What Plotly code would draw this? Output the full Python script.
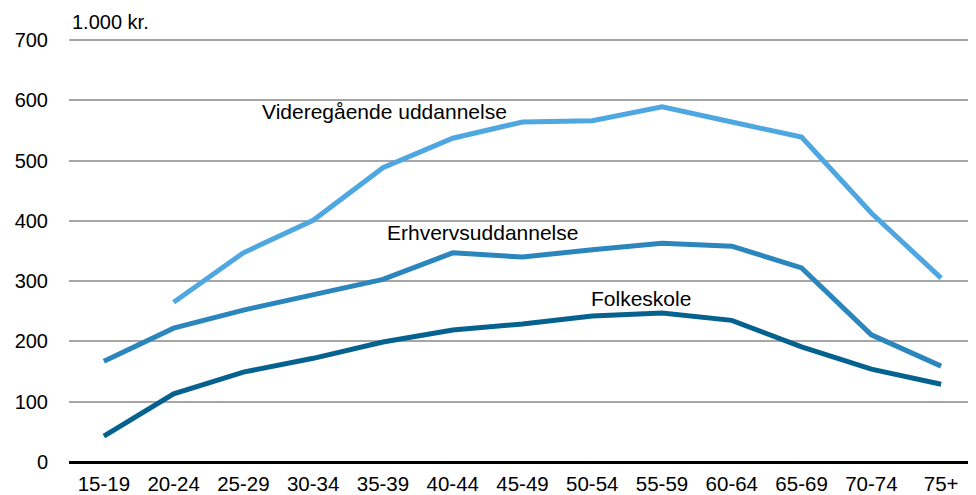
import plotly.graph_objects as go

categories = ["15-19", "20-24", "25-29", "30-34", "35-39", "40-44", "45-49",
              "50-54", "55-59", "60-64", "65-69", "70-74", "75+"]
folkeskole = [43, 113, 149, 172, 199, 219, 229, 242, 247, 235, 191, 154, 129]
erhverv = [167, 222, 252, 277, 303, 347, 340, 352, 363, 358, 322, 211, 159]
videregaaende = [None, 265, 347, 401, 488, 537, 564, 566, 589, 564, 539, 413, 305]
yticks = [0, 100, 200, 300, 400, 500, 600, 700]

FONT = "Liberation Sans, Arial, sans-serif"
fig = go.Figure()
series = [
    ("Videregående uddannelse", videregaaende, "#4ea7e0"),
    ("Erhvervsuddannelse", erhverv, "#2a86bd"),
    ("Folkeskole", folkeskole, "#05628f"),
]
for name, vals, col in series:
    fig.add_trace(go.Scatter(x=categories, y=vals, mode="lines", name=name,
                             line=dict(color=col, width=5), connectgaps=False))

annots = [
    ("Videregående uddannelse", 2.26, 582),
    ("Erhvervsuddannelse", 4.06, 380),
    ("Folkeskole", 6.98, 272),
]
for text, xv, yv in annots:
    fig.add_annotation(x=xv, y=yv, text=text, showarrow=False, xanchor="left",
                       yanchor="middle", xshift=-2,
                       font=dict(size=21, color="#000", family=FONT))
fig.add_annotation(xref="paper", yref="paper", x=0.0, y=1.0, yshift=3, xshift=1,
                   text="1.000 kr.", showarrow=False, xanchor="left", yanchor="bottom",
                   font=dict(size=20, color="#000", family=FONT))

fig.update_layout(
    width=976, height=495,
    margin=dict(l=61, r=8, t=30, b=41, autoexpand=False),
    plot_bgcolor="white", paper_bgcolor="white",
    showlegend=False,
    font=dict(family=FONT, size=20, color="#000"),
    xaxis=dict(type="category", range=[-0.5, 12.5], showgrid=False, ticks="",
               showline=False, zeroline=False, tickfont=dict(size=20.5),
               ticklabelstandoff=7, automargin=False),
    yaxis=dict(range=[0, 703.3], tickvals=yticks, showgrid=True, gridcolor="#a6a6a6",
               gridwidth=2, zeroline=True, zerolinecolor="#000", zerolinewidth=3,
               ticks="", ticklabelstandoff=20, tickfont=dict(size=20), automargin=False),
)
fig.write_html("out.html")
